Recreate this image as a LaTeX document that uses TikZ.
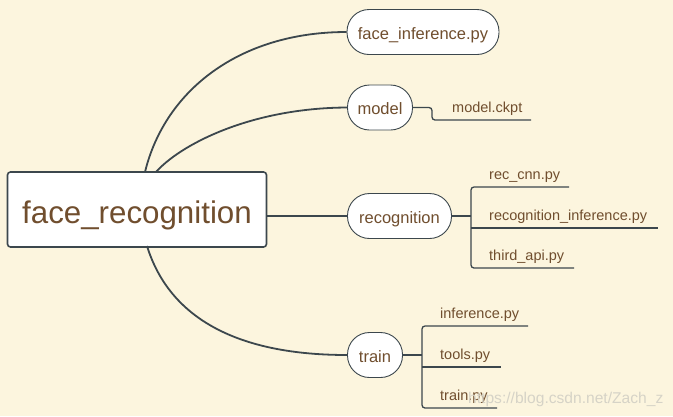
\documentclass[tikz,border=0pt]{standalone}
\usepackage{fontspec}
\setmainfont{Liberation Sans}
\usepackage{tikz}
\usetikzlibrary{positioning, calc}
\definecolor{bgcream}{RGB}{252,245,222}
\definecolor{linegray}{RGB}{60,71,77}
\definecolor{textbrown}{RGB}{112,78,46}
\definecolor{markgray}{RGB}{214,211,199}
\begin{document}
\begin{tikzpicture}[
    x=1pt, y=-1pt,
    rootbox/.style={
        rectangle,
        draw=linegray,
        line width=1.6pt,
        rounded corners=3pt,
        fill=white,
        inner sep=0pt,
        minimum width=259pt,
        minimum height=75pt,
        text height=27pt,
        text depth=0pt,
        text=textbrown,
        font=\fontsize{31.3}{34}\selectfont
    },
    pillbox/.style={
        rectangle,
        draw=linegray,
        line width=0.9pt,
        rounded corners=22pt,
        fill=white,
        inner sep=0pt,
        minimum height=45pt,
        text height=14pt,
        text depth=0pt,
        text=textbrown,
        font=\fontsize{16.5}{18}\selectfont
    },
    leaf/.style={anchor=base west, inner sep=0pt, text=textbrown, font=\fontsize{14.5}{16}\selectfont},
    branch/.style={draw=linegray, line width=1.8pt},
    twig/.style={draw=linegray, line width=1.3pt, rounded corners=3pt}
]
\fill[bgcream] (0,0) rectangle (673,416);
\useasboundingbox (0,0) rectangle (673,416);

\node[rootbox] (root) at (137,209.5) {face\_recognition};

\node[pillbox, minimum width=152pt] (faceinf) at (423,32) {face\_inference.py};
\node[pillbox, minimum width=65pt] (model) at (380,107.5) {model};
\node[pillbox, minimum width=104pt] (recognition) at (399.5,216) {recognition};
\node[pillbox, minimum width=55pt] (train) at (375,355) {train};

% branches from the root
\draw[branch] (145,172) .. controls (165,90) and (240,32) .. (faceinf.west);
\draw[branch] (156,172) .. controls (180,145) and (250,108) .. (model.west);
\draw[branch] (root.east |- recognition.west) -- (recognition.west);
\draw[branch] (147,246) .. controls (170,320) and (240,355) .. (train.west);

% model
\node[leaf] (ckpt) at (452,112) {model.ckpt};
\coordinate (ckptfork) at (432,107.5);
\coordinate (ckptend) at (531,120);
\draw[twig] (model.east) -- (ckptfork) |- (ckptend);

% recognition
\node[leaf] (reccnn) at (489,179) {rec\_cnn.py};
\node[leaf] (recinf) at (489,220) {recognition\_inference.py};
\node[leaf] (thirdapi) at (489,260) {third\_api.py};
\coordinate (recfork) at (471,216);
\coordinate (reccnnend) at (569,187);
\coordinate (recinfend) at (658,228);
\coordinate (thirdapiend) at (574,268);
\draw[branch] (recognition.east) -- (recfork);
\draw[twig] (reccnnend) -- (reccnnend -| recfork) -- (thirdapiend -| recfork) -- (thirdapiend);
\draw[twig] (recinfend -| recfork) -- (recinfend);

% train
\node[leaf] (infer) at (440,318) {inference.py};
\node[leaf] (tools) at (440,359) {tools.py};
\node[leaf] (trainpy) at (440,400) {train.py};
\coordinate (trainfork) at (422,355);
\coordinate (inferend) at (528,326);
\coordinate (toolsend) at (501,367);
\coordinate (trainpyend) at (497,408);
\draw[branch] (train.east) -- (trainfork);
\draw[twig] (inferend) -- (inferend -| trainfork) -- (trainpyend -| trainfork) -- (trainpyend);
\draw[twig] (toolsend -| trainfork) -- (toolsend);

\node[anchor=base west, inner sep=0pt, text=markgray, font=\fontsize{15.6}{17}\selectfont] (mark) at (468,403) {https://blog.csdn.net/Zach\_z};
\end{tikzpicture}
\end{document}
